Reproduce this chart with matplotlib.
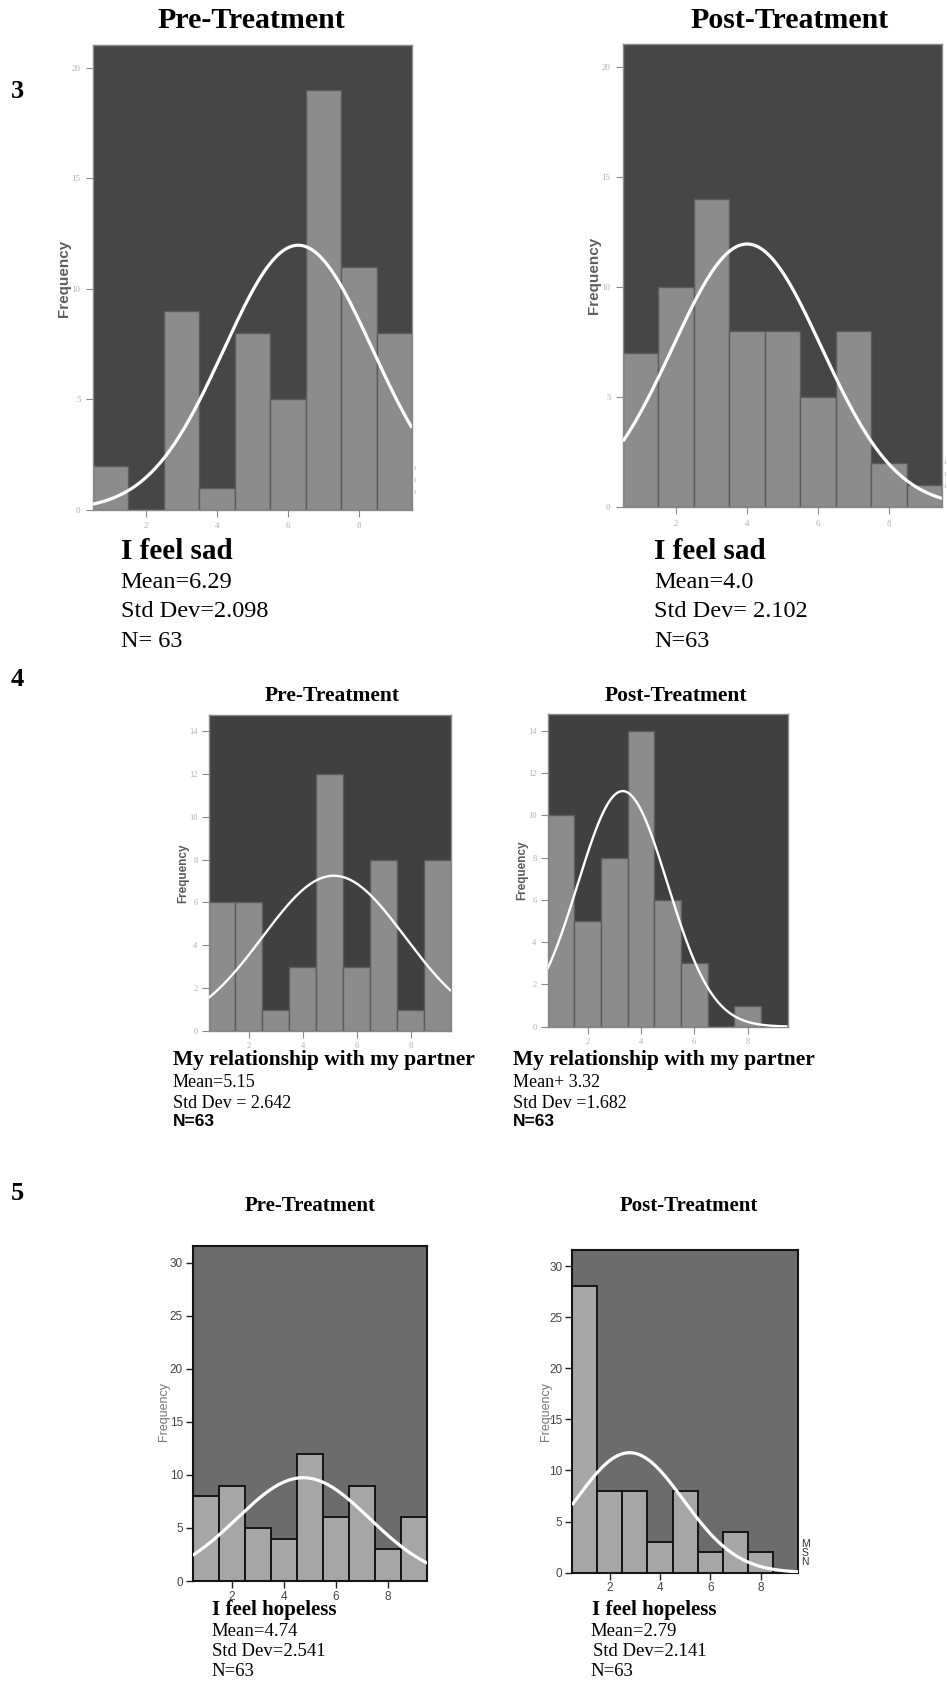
import numpy as np
import matplotlib
matplotlib.use("Agg")
import matplotlib.pyplot as plt

W, H = 947, 1695
DPI = 100

# ---------------- data ----------------
score_bins = [1, 2, 3, 4, 5, 6, 7, 8, 9]
x_ticks = [2, 4, 6, 8]

sad_pre = [2, 0, 9, 1, 8, 5, 19, 11, 8]
sad_post = [7, 10, 14, 8, 8, 5, 8, 2, 1]
rel_pre = [6, 6, 1, 3, 12, 3, 8, 1, 8]
rel_post = [10, 5, 8, 14, 6, 3, 0, 1, 0]
hope_pre = [8, 9, 5, 4, 12, 6, 9, 3, 6]
hope_post = [28, 8, 8, 3, 8, 2, 4, 2, 0]

means = {"sad_pre": 6.29, "sad_post": 4.0, "rel_pre": 5.15, "rel_post": 3.32,
         "hope_pre": 4.74, "hope_post": 2.79}
sds = {"sad_pre": 2.098, "sad_post": 2.102, "rel_pre": 2.642, "rel_post": 1.682,
       "hope_pre": 2.541, "hope_post": 2.141}

sad_ticks = [0, 5, 10, 15, 20]
rel_ticks = [0, 2, 4, 6, 8, 10, 12, 14]
hope_ticks = [0, 5, 10, 15, 20, 25, 30]

plt.rcParams["font.family"] = ["Liberation Serif", "DejaVu Serif"]

fig = plt.figure(figsize=(W / DPI, H / DPI), dpi=DPI)
fig.patch.set_facecolor("white")


def fx(px):
    return px / W


def fy(py):
    return 1 - py / H


def add_ax(l, t, r, b):
    return fig.add_axes([l / W, 1 - b / H, (r - l) / W, (b - t) / H])


def panel(rect, counts, key, ylim, yticks, style):
    l, t, r, b = rect
    ax = add_ax(l, t, r, b)
    ax.set_facecolor(style["bg"])
    ax.bar(score_bins, counts, width=1.0, color=style["bar"],
           edgecolor=style["edge"], linewidth=style["elw"], zorder=2)
    n = sum(counts)
    xs = np.linspace(0.5, 9.5, 400)
    mu, sd = means[key], sds[key]
    ys = n * np.exp(-0.5 * ((xs - mu) / sd) ** 2) / (sd * np.sqrt(2 * np.pi))
    ax.plot(xs, ys, color="white", lw=style["clw"], zorder=3, solid_capstyle="butt")
    ax.set_xlim(0.5, 9.5)
    ax.set_ylim(0, ylim)
    ax.set_xticks(x_ticks)
    ax.set_yticks(yticks)
    ax.tick_params(axis="both", direction="out", length=style["tlen"],
                   width=style["tw"], color=style["tcol"],
                   labelsize=style["tsize"], labelcolor=style["lcol"],
                   pad=style["pad"])
    for lab in ax.get_xticklabels() + ax.get_yticklabels():
        lab.set_fontfamily(style["tfont"])
    for s in ax.spines.values():
        s.set_color(style["spine"])
        s.set_linewidth(style["slw"])
    return ax


style34 = dict(bg="#464646", bar="#8c8c8c", edge="#5c5c5c", elw=1.0, clw=2.3,
               tlen=5, tw=0.8, tcol="#8a8a8a", tsize=6.5, lcol="#b0b0b0",
               pad=4, tfont=["Liberation Serif"], spine="#8a8a8a", slw=1.0)
style4 = dict(style34, bg="#404040", clw=1.7, tsize=6, pad=3)
style5 = dict(bg="#6c6c6c", bar="#a6a6a6", edge="#151515", elw=1.4, clw=2.3,
              tlen=5, tw=1.0, tcol="#222222", tsize=8.5, lcol="#444444",
              pad=2, tfont=["Liberation Sans"], spine="#151515", slw=1.5)

axes_info = [
    ((93, 45, 412, 510), sad_pre, "sad_pre", 21.04, sad_ticks, style34, (63.5, 278), 11, "bold", "#5e5e5e"),
    ((623, 44, 942, 507), sad_post, "sad_post", 21.05, sad_ticks, style34, (594, 275), 11, "bold", "#5e5e5e"),
    ((208.5, 715, 451, 1031), rel_pre, "rel_pre", 14.75, rel_ticks, style4, (183, 873), 8.5, "bold", "#5a5a5a"),
    ((547.5, 714.3, 787.5, 1026.7), rel_post, "rel_post", 14.78, rel_ticks, style4, (522.7, 870), 8.5, "bold", "#5a5a5a"),
    ((192.7, 1245.7, 427.3, 1581), hope_pre, "hope_pre", 31.6, hope_ticks, style5, (163.5, 1411.7), 9, "normal", "#777777"),
    ((572, 1250, 798.3, 1572.7), hope_post, "hope_post", 31.57, hope_ticks, style5, (546, 1411.7), 9, "normal", "#777777"),
]

for rect, counts, key, ylim, yt, st, (lx, ly), lsz, lwt, lcol in axes_info:
    ax = panel(rect, counts, key, ylim, yt, st)
    l, t, r, b = rect
    ax.set_ylabel("Frequency", fontsize=lsz, fontweight=lwt, color=lcol,
                  family=["Liberation Sans"])
    ax.yaxis.label.set_verticalalignment("center")
    ax.yaxis.set_label_coords((lx - l) / (r - l), (b - ly) / (b - t))

# faint legend remnants at right edge of top row
for xr, y0 in [(415, 468), (945, 462)]:
    for k in range(3):
        fig.text(fx(xr), fy(y0 + 12 * k), "ı", fontsize=6, color="#b8b8b8",
                 ha="center", va="center")

# MSN remnant
fig.text(fx(805), fy(1553), "M\nS\nN", fontsize=7.5, color="#333333",
         ha="center", va="center", linespacing=0.85, family=["Liberation Sans"])

# row numbers
for num, y in [("3", 91), ("4", 679), ("5", 1194)]:
    fig.text(fx(11), fy(y), num, fontsize=19, fontweight="bold", ha="left",
             va="center", color="black")

# panel titles
titles = [("Pre-Treatment", 251, 20, 21.5), ("Post-Treatment", 790, 20, 21.5),
          ("Pre-Treatment", 331.7, 696, 15.5), ("Post-Treatment", 675.5, 696, 15.5),
          ("Pre-Treatment", 310, 1206, 15), ("Post-Treatment", 688.8, 1206, 15)]
for txt, x, y, sz in titles:
    fig.text(fx(x), fy(y), txt, fontsize=sz, fontweight="bold", ha="center",
             va="center", color="black")

# captions
def caption(x, ys, lines, head_size, body_size, xs=None):
    for i, (txt, y) in enumerate(zip(lines, ys)):
        xx = x if xs is None else xs[i]
        if i == 0:
            fig.text(fx(xx), fy(y), txt, fontsize=head_size, fontweight="bold",
                     ha="left", va="center", color="black")
        else:
            fig.text(fx(xx), fy(y), txt, fontsize=body_size, ha="left",
                     va="center", color="black")


caption(120.7, [551.7, 583, 611.7, 641.7],
        ["I feel sad", "Mean=6.29", "Std Dev=2.098", "N= 63"], 21, 17.5)
caption(654, [551.7, 583, 611.7, 641.7],
        ["I feel sad", "Mean=4.0", "Std Dev= 2.102", "N=63"], 21, 17.5)

caption(172.7, [1060, 1082.7, 1103.3],
        ["My relationship with my partner", "Mean=5.15", "Std Dev = 2.642"], 15.5, 13)
caption(512.7, [1060, 1082.7, 1103.3],
        ["My relationship with my partner", "Mean+ 3.32", "Std Dev =1.682"], 15.5, 13)
for x in [172.7, 512.7]:
    fig.text(fx(x), fy(1121), "N=63", fontsize=12.5, fontweight="bold",
             ha="left", va="center", family=["Liberation Sans"], color="black")

caption(211.7, [1610, 1631, 1651, 1671.7],
        ["I feel hopeless", "Mean=4.74", "Std Dev=2.541", "N=63"], 15, 13.5)
caption(591.7, [1610, 1631, 1651, 1671.7],
        ["I feel hopeless", "Mean=2.79", "Std Dev=2.141", "N=63"], 15, 13.5,
        xs=[591.7, 590, 592.5, 590])

fig.savefig("out.png", dpi=DPI, facecolor="white")
